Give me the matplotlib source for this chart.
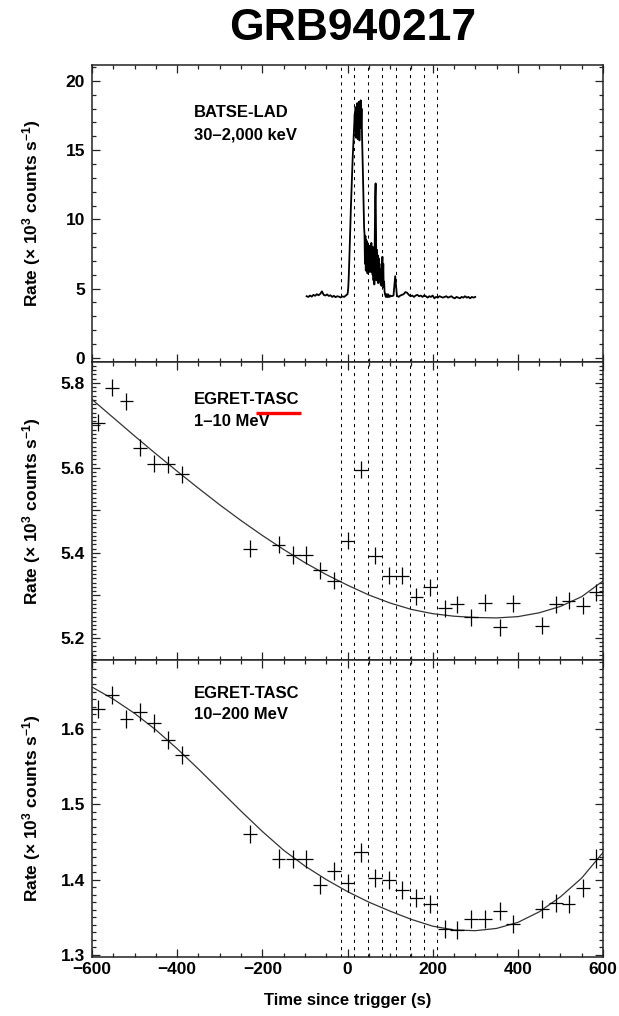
import numpy as np
import matplotlib
matplotlib.use("Agg")
import matplotlib.pyplot as plt
from matplotlib.ticker import MultipleLocator, FuncFormatter

plt.rcParams['font.family'] = ['Liberation Sans', 'DejaVu Sans']
plt.rcParams['font.weight'] = 'bold'
plt.rcParams['mathtext.fontset'] = 'custom'
plt.rcParams['mathtext.rm'] = 'Liberation Sans:bold'
plt.rcParams['mathtext.it'] = 'Liberation Sans:bold'
plt.rcParams['mathtext.bf'] = 'Liberation Sans:bold'
plt.rcParams['mathtext.default'] = 'rm'

# ---------------- data ----------------
title = "GRB940217"
xlabel = "Time since trigger (s)"
ylabel = "Rate (\u00d7 10$^{3}$ counts s$^{-1}$)"
xticks = [-600, -400, -200, 0, 200, 400, 600]

# EGRET accumulation boundaries (dashed lines)
bin_bounds = [-16, 16, 48, 80, 113, 146, 179, 211]

# BATSE-LAD light curve
batse_t_pre = np.arange(-96, 0, 4)
batse_pre = [4.45, 4.40, 4.50, 4.42, 4.55, 4.48, 4.60, 4.52, 4.62, 4.80, 4.55, 4.50,
             4.58, 4.47, 4.52, 4.40, 4.48, 4.38, 4.45, 4.42, 4.36, 4.44, 4.40, 4.50]
batse_t_burst = np.arange(0, 100, 1)
batse_burst = [4.6, 4.8, 5.2, 5.9, 6.8, 7.8, 8.9, 9.9, 10.9, 11.8,
               12.7, 13.5, 14.3, 15.0, 15.7, 16.3, 16.9, 17.6, 16.4, 18.1,
               15.9, 17.7, 16.3, 18.4, 15.8, 17.9, 16.1, 18.5, 15.7, 18.2,
               16.6, 18.6, 16.8, 18.0, 16.2, 15.0, 13.6, 12.1, 10.6, 9.4,
               8.9, 6.8, 8.8, 6.3, 8.5, 6.6, 8.4, 6.1, 8.2, 6.5,
               7.9, 6.2, 8.1, 6.4, 7.8, 6.2, 8.3, 6.5, 7.9, 6.0,
               8.0, 5.6, 7.7, 5.3, 8.6, 11.6, 12.6, 9.0, 5.6, 7.8,
               5.8, 7.4, 5.4, 7.2, 5.5, 6.8, 5.6, 6.4, 5.3, 6.2,
               5.2, 6.6, 7.3, 5.4, 6.8, 5.1, 5.5, 4.8, 4.6, 4.5,
               4.4, 4.6, 4.5, 4.4, 4.5, 4.6, 4.4, 4.5, 4.5, 4.4]
batse_t_post = np.arange(100, 304, 4)
batse_post = [4.50, 4.45, 4.50, 5.90, 4.50, 4.40, 4.50, 4.55, 4.60, 4.75,
              4.70, 4.55, 4.45, 4.50, 4.40, 4.50, 4.55, 4.45, 4.50, 4.40,
              4.50, 4.45, 4.35, 4.45, 4.40, 4.50, 4.30, 4.40, 4.35, 4.45,
              4.40, 4.35, 4.40, 4.45, 4.35, 4.40, 4.45, 4.35, 4.30, 4.40,
              4.35, 4.30, 4.40, 4.35, 4.45, 4.35, 4.40, 4.30, 4.40, 4.35, 4.40]

# EGRET-TASC accumulations
tasc_t = [-586, -552, -519, -488, -455, -422, -388, -229, -162, -129, -97,
          -65, -32, 0, 32, 65, 97, 129, 162, 194, 229, 258, 291, 324, 358,
          389, 457, 489, 519, 552, 583]
tasc_halfwidth = 16.4
tasc1 = [5.706, 5.788, 5.757, 5.647, 5.610, 5.608, 5.585, 5.410, 5.419, 5.395, 5.395,
         5.359, 5.334, 5.428, 5.596, 5.393, 5.346, 5.346, 5.297, 5.319, 5.270,
         5.279, 5.248, 5.283, 5.225, 5.281, 5.229, 5.279, 5.287, 5.276, 5.307]
tasc1_err = 0.02
tasc2 = [1.627, 1.646, 1.614, 1.623, 1.608, 1.585, 1.566, 1.460, 1.428, 1.427, 1.427,
         1.393, 1.411, 1.395, 1.436, 1.402, 1.399, 1.386, 1.375, 1.367, 1.334,
         1.333, 1.347, 1.347, 1.358, 1.341, 1.361, 1.369, 1.367, 1.389, 1.428]
tasc2_err = 0.012

# background fits (every 50 s)
fit_t = np.arange(-600, 650, 50)
fit1 = [5.761, 5.718, 5.675, 5.633, 5.592, 5.552, 5.513, 5.476, 5.441, 5.408,
        5.377, 5.349, 5.324, 5.301, 5.282, 5.267, 5.257, 5.251, 5.248, 5.247,
        5.250, 5.259, 5.274, 5.297, 5.334]
fit2 = [1.656, 1.640, 1.621, 1.599, 1.574, 1.547, 1.519, 1.491, 1.464, 1.439,
        1.418, 1.400, 1.384, 1.370, 1.358, 1.347, 1.338, 1.333, 1.332, 1.335,
        1.343, 1.357, 1.377, 1.402, 1.436]

# ---------------- figure ----------------
W, H = 619, 1016
fig = plt.figure(figsize=(W / 100, H / 100), dpi=100)

left, right = 92, 603
panels_px = [(65, 362), (362, 660), (660, 957)]
axes = []
for top, bot in panels_px:
    ax = fig.add_axes([left / W, 1 - bot / H, (right - left) / W, (bot - top) / H])
    axes.append(ax)
ax1, ax2, ax3 = axes

def style(ax, ymaj, ymin_, fmt=None):
    ax.set_xlim(-600, 600)
    ax.xaxis.set_major_locator(MultipleLocator(200))
    ax.xaxis.set_minor_locator(MultipleLocator(50))
    ax.yaxis.set_major_locator(MultipleLocator(ymaj))
    ax.yaxis.set_minor_locator(MultipleLocator(ymin_))
    ax.tick_params(which='both', direction='in', top=True, right=True,
                   labelsize=12.5, width=0.9, color='#222222')
    ax.tick_params(which='major', length=6)
    ax.tick_params(which='minor', length=3)
    ax.tick_params(axis='y', pad=5)
    ax.tick_params(axis='x', pad=3.5)
    for s in ax.spines.values():
        s.set_linewidth(1.1)
        s.set_color('#222222')
    if fmt is not None:
        ax.yaxis.set_major_formatter(FuncFormatter(fmt))
    for lab in ax.get_xticklabels() + ax.get_yticklabels():
        lab.set_fontweight('bold')

for ax in axes:
    for b in bin_bounds:
        ax.axvline(b, color='black', lw=0.75, linestyle=(0, (3.0, 4.0)), zorder=1)

# top panel
ax1.plot(np.concatenate([batse_t_pre, batse_t_burst, batse_t_post]),
         batse_pre + batse_burst + batse_post, color='black', lw=1.3, zorder=3)
ax1.set_ylim(-0.3, 21.15)
style(ax1, 5, 1, lambda v, p: f"{v:.0f}")
ax1.text(-360, 17.7, "BATSE-LAD", fontsize=12, fontweight='bold', va='center', ha='left')
ax1.text(-360, 16.1, "30\u20132,000 keV", fontsize=12, fontweight='bold', va='center', ha='left')

# middle panel
ax2.plot(fit_t, fit1, color='#333333', lw=0.9, zorder=2)
ax2.errorbar(tasc_t, tasc1, xerr=tasc_halfwidth, yerr=tasc1_err, fmt='none',
             ecolor='black', elinewidth=0.9, capsize=0, zorder=3)
ax2.set_ylim(5.148, 5.849)
style(ax2, 0.1, 0.01,
      lambda v, p: (f"{v:.1f}" if abs(round(v * 10) % 2) < 0.5 else ""))
ax2.text(-360, 5.76, "EGRET-TASC", fontsize=12, fontweight='bold', va='center', ha='left')
ax2.text(-360, 5.708, "1\u201310 MeV", fontsize=12, fontweight='bold', va='center', ha='left')
ax2.plot([-215, -109], [5.729, 5.729], color='red', lw=2.4, solid_capstyle='butt', zorder=4)

# bottom panel
ax3.plot(fit_t, fit2, color='#333333', lw=0.9, zorder=2)
ax3.errorbar(tasc_t, tasc2, xerr=tasc_halfwidth, yerr=tasc2_err, fmt='none',
             ecolor='black', elinewidth=0.9, capsize=0, zorder=3)
ax3.set_ylim(1.297, 1.692)
style(ax3, 0.1, 0.01, lambda v, p: f"{v:.1f}")
ax3.text(-360, 1.648, "EGRET-TASC", fontsize=12, fontweight='bold', va='center', ha='left')
ax3.text(-360, 1.619, "10\u2013200 MeV", fontsize=12, fontweight='bold', va='center', ha='left')

ax1.tick_params(labelbottom=False)
ax2.tick_params(labelbottom=False)
ax3.set_xticks(xticks)
ax3.set_xticklabels([f"{v}".replace("-", "\u2212") for v in xticks], fontweight='bold')

# labels
for top, bot in panels_px:
    fig.text(32 / W, 1 - (top + bot) / 2 / H, ylabel, rotation=90, fontsize=12.5,
             fontweight='bold', ha='center', va='center')
fig.text((left + right) / 2 / W, 1 - 1001 / H, xlabel, fontsize=12, fontweight='bold',
         ha='center', va='center')
fig.text(353 / W, 1 - 29 / H, title, fontsize=32, fontweight='bold', ha='center', va='center')

fig.savefig("out.png", dpi=100)
